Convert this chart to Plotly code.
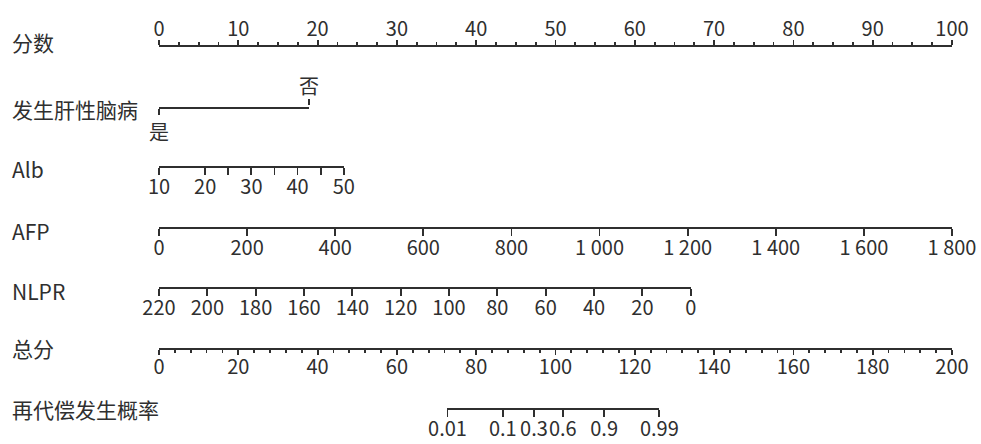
import math
import plotly.graph_objects as go

# ---------------- data ----------------
points_ticks = list(range(0, 101, 10))

he_levels = ["是", "否"]
he_points = [0.0, 18.9]

alb_ticks = [10, 20, 25, 30, 35, 40, 45, 50]
alb_labelled = [10, 20, 30, 40, 50]
alb_range = [10, 50]
alb_points = [0.0, 23.3]

afp_ticks = list(range(0, 1801, 200))
afp_range = [0, 1800]
afp_points = [0.0, 100.0]

nlpr_ticks = list(range(220, -1, -20))
nlpr_range = [220, 0]
nlpr_points = [0.0, 67.05]

total_ticks = list(range(0, 201, 20))
total_range = [0, 200]

prob_ticks = [0.01, 0.1, 0.3, 0.6, 0.9, 0.99]
prob_labels = ["0.01", "0.1", "0.3", "0.6", "0.9", "0.99"]
total_at_logit0 = 99.48
total_per_logit = 5.815

row_names = ["分数", "发生肝性脑病", "Alb", "AFP", "NLPR", "总分", "再代偿发生概率"]

# ---------------- layout constants ----------------
OX, OY = 0, 0                    # page body margin removed by post_script
W, H = 981 - OX, 444 - OY
PX0, PX1 = 159.0 - OX, 952.0 - OX   # pixel span of 0..100 points
TX0, TX1 = 159.0 - OX, 952.0 - OX   # pixel span of 0..200 total points
line_y = [y - OY for y in [46.5, 107, 165.5, 227, 287, 348, 408]]
label_y = [y - OY for y in [42, 109, 169, 231, 291, 348, 409]]
INK = "#2f2f2f"
FONT = "Noto Sans CJK SC"
TICKFONT = dict(family=FONT, size=20, color=INK)


def pts_px(p):
    return PX0 + (PX1 - PX0) * p / 100.0


def tot_px(t):
    return TX0 + (TX1 - TX0) * t / 200.0


def logit(p):
    return math.log(p / (1 - p))


fig = go.Figure()
layout = dict(
    width=W, height=H, autosize=False,
    margin=dict(l=0, r=0, t=0, b=0, pad=0, autoexpand=False),
    paper_bgcolor="white", plot_bgcolor="rgba(0,0,0,0)",
    showlegend=False,
    font=dict(family=FONT, color=INK),
)

axis_common = dict(
    showgrid=False, zeroline=False, showline=True, automargin=False,
    linecolor=INK, linewidth=2, tickangle=0,
    ticks="outside", tickcolor=INK, tickwidth=1.8, ticklen=7,
    tickfont=TICKFONT, fixedrange=True, ticklabelstandoff=-5,
)


def add_row(idx, x_range, px_span, tickvals, ticktext, side="bottom", extra=None):
    n = idx + 1
    xs = "" if n == 1 else str(n)
    ypos = 1 - line_y[idx] / H
    if side == "bottom":
        ydom = [ypos, ypos + 0.002]
    else:
        ydom = [ypos - 0.002, ypos]
    xa = dict(axis_common)
    xa.update(
        domain=[px_span[0] / W, px_span[1] / W],
        range=x_range, anchor="y" + xs, side=side,
        tickmode="array", tickvals=tickvals, ticktext=ticktext,
    )
    if extra:
        xa.update(extra)
    layout["xaxis" + xs] = xa
    layout["yaxis" + xs] = dict(domain=ydom, range=[0, 1], visible=False,
                                fixedrange=True, anchor="x" + xs, automargin=False)
    fig.add_trace(go.Scatter(x=[x_range[0]], y=[0.5], mode="markers",
                             marker=dict(opacity=0), hoverinfo="skip",
                             xaxis="x" + xs, yaxis="y" + xs))


# Row 1: points
add_row(0, [0, 100], [pts_px(0), pts_px(100)], points_ticks,
        [str(v) for v in points_ticks], side="top",
        extra=dict(ticklen=5, ticklabelstandoff=-4,
                   minor=dict(dtick=2.5, ticklen=3, ticks="outside",
                              tickcolor=INK, tickwidth=1.8)))

# Row 2: hepatic encephalopathy (two-level factor)
add_row(1, [he_points[0], he_points[1]], [pts_px(he_points[0]), pts_px(he_points[1])],
        [he_points[0]], [he_levels[0]], side="bottom",
        extra=dict(ticklen=6, ticklabelstandoff=1))
xa_top = dict(axis_common)
xa_top.update(range=[he_points[0], he_points[1]], overlaying="x2", anchor="y2",
              side="top", showline=False, ticklen=6, tickmode="array",
              ticklabelstandoff=-3,
              tickvals=[he_points[1]], ticktext=[he_levels[1]])
layout["xaxis8"] = xa_top
fig.add_trace(go.Scatter(x=[he_points[1]], y=[0.5], mode="markers",
                         marker=dict(opacity=0), hoverinfo="skip",
                         xaxis="x8", yaxis="y2"))

# Row 3: Alb
add_row(2, alb_range, [pts_px(alb_points[0]), pts_px(alb_points[1])], alb_ticks,
        [str(v) if v in alb_labelled else "" for v in alb_ticks])

# Row 4: AFP
add_row(3, afp_range, [pts_px(afp_points[0]), pts_px(afp_points[1])], afp_ticks,
        [f"{v:,}".replace(",", " ") for v in afp_ticks])

# Row 5: NLPR
add_row(4, nlpr_range, [pts_px(nlpr_points[0]), pts_px(nlpr_points[1])], nlpr_ticks,
        [str(v) for v in nlpr_ticks])

# Row 6: total points
add_row(5, total_range, [tot_px(0), tot_px(200)], total_ticks,
        [str(v) for v in total_ticks],
        extra=dict(ticklen=5, minor=dict(dtick=4, ticklen=3, ticks="outside",
                                         tickcolor=INK, tickwidth=1.8)))

# Row 7: probability
prob_total = [total_at_logit0 + total_per_logit * logit(p) for p in prob_ticks]
add_row(6, [prob_total[0], prob_total[-1]], [tot_px(prob_total[0]), tot_px(prob_total[-1])],
        prob_total, prob_labels)

annotations = []
for name, y in zip(row_names, label_y):
    annotations.append(dict(text=name, xref="paper", yref="paper",
                            x=(10 - OX) / W, y=1 - y / H, xanchor="left", yanchor="middle",
                            showarrow=False, font=dict(family=FONT, size=21, color=INK)))
layout["annotations"] = annotations

fig.update_layout(**layout)
fig.write_html("out.html",
               config={"displayModeBar": False, "staticPlot": True},
               post_script="document.body.style.margin='0';document.body.style.overflow='hidden';")
